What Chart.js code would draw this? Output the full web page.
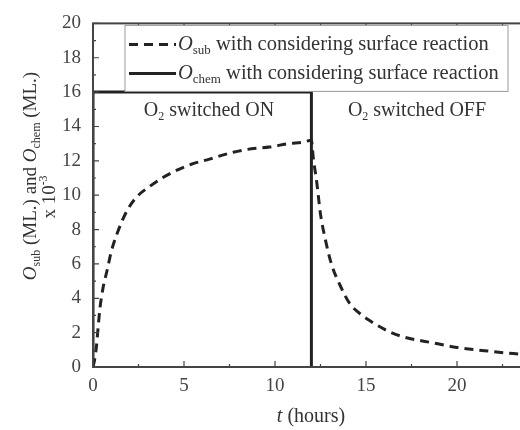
<!DOCTYPE html>
<html>
<head>
<meta charset="utf-8">
<script src="https://cdn.jsdelivr.net/npm/chart.js@4"></script>
<style>
  html, body { margin: 0; padding: 0; background: #fff; overflow: hidden; }
  #wrap { width: 520px; height: 430px; overflow: hidden; }
</style>
</head>
<body>
<div id="wrap"><canvas id="chart" width="550" height="430"></canvas></div>
<script>
// ===== Data =====
const chemTime = [0, 0, 12, 12];
const chemValues = [0, 16, 16, 0];

const subTime = [0, 0.1, 0.2, 0.28, 0.38, 0.55, 0.77, 1.0, 1.3, 1.87, 2.4, 3.1, 3.8, 4.5, 5.4, 6.4, 7.7, 8.7, 9.7, 10.7, 11.6, 12.0,
  12.1, 12.3, 12.5, 12.75, 13.1, 13.6, 14.1, 14.8, 15.2, 16.0, 16.9, 18.7, 20, 21.5, 23.1, 25];
const subValues = [0, 0.5, 1.3, 2.3, 3.4, 4.6, 5.6, 6.7, 7.7, 9.1, 9.9, 10.5, 11.0, 11.4, 11.8, 12.1, 12.5, 12.7, 12.8, 13.0, 13.1, 13.2,
  12.2, 10.7, 8.9, 7.5, 6.0, 4.7, 3.7, 3.0, 2.7, 2.2, 1.8, 1.4, 1.14, 0.95, 0.78, 0.65];

const xTicks = [0, 5, 10, 15, 20];
const yTicks = [0, 2, 4, 6, 8, 10, 12, 14, 16, 18, 20];

const FONT = "'Liberation Serif', 'DejaVu Serif', serif";
const INK = "#222";

// ===== Rich text helper (italic / subscript / superscript) =====
function fontFor(style, size) {
  const small = style === "sub" || style === "sup";
  const sz = small ? Math.round(size * 0.62) : size;
  const it = style === "i" ? "italic " : "";
  return it + sz + "px " + FONT;
}
function richWidth(ctx, parts, size) {
  let w = 0;
  parts.forEach(([t, s]) => {
    ctx.font = fontFor(s, size);
    w += ctx.measureText(t).width;
  });
  return w;
}
function drawRich(ctx, x, y, parts, size, align) {
  let cx = x;
  if (align === "center") cx = x - richWidth(ctx, parts, size) / 2;
  ctx.textBaseline = "middle";
  ctx.textAlign = "left";
  parts.forEach(([t, s]) => {
    ctx.font = fontFor(s, size);
    let dy = 0;
    if (s === "sub") dy = size * 0.3;
    if (s === "sup") dy = -size * 0.35;
    ctx.fillText(t, cx, y + dy);
    cx += ctx.measureText(t).width;
  });
}

// ===== Frame, ticks, legend, labels =====
const decor = {
  id: "decor",
  afterDatasetsDraw(chart) {
    const { ctx, chartArea: a, scales: { x, y } } = chart;
    ctx.save();

    // frame
    ctx.strokeStyle = "#444";
    ctx.lineWidth = 2;
    ctx.strokeRect(a.left, a.top, a.right - a.left, a.bottom - a.top);

    // inward ticks
    ctx.lineWidth = 1.2;
    for (let v = 0; v <= 20; v += 1) {
      const len = v % 2 === 0 ? 6 : 3;
      const py = y.getPixelForValue(v);
      ctx.beginPath();
      ctx.moveTo(a.left, py); ctx.lineTo(a.left + len, py);
      ctx.moveTo(a.right, py); ctx.lineTo(a.right - len, py);
      ctx.stroke();
    }
    for (let v = 0; v <= 25; v += 2.5) {
      const len = v % 5 === 0 ? 6 : 3;
      const px = x.getPixelForValue(v);
      ctx.beginPath();
      ctx.moveTo(px, a.bottom); ctx.lineTo(px, a.bottom - len);
      ctx.moveTo(px, a.top); ctx.lineTo(px, a.top + len);
      ctx.stroke();
    }

    // legend box
    const lx = 125, ly = a.top + 2, lw = 383, lh = 66;
    ctx.fillStyle = "#fff";
    ctx.fillRect(lx, ly, lw, lh);
    ctx.strokeStyle = "#999";
    ctx.lineWidth = 1;
    ctx.strokeRect(lx, ly, lw, lh);

    ctx.strokeStyle = INK;
    ctx.lineWidth = 3;
    ctx.setLineDash([9, 6]);
    ctx.beginPath(); ctx.moveTo(129, ly + 19); ctx.lineTo(176, ly + 19); ctx.stroke();
    ctx.setLineDash([]);
    ctx.beginPath(); ctx.moveTo(129, ly + 48); ctx.lineTo(176, ly + 48); ctx.stroke();

    ctx.fillStyle = "#333";
    drawRich(ctx, 178, ly + 19, [["O", "i"], ["sub", "sub"], [" with considering surface reaction", ""]], 20.5);
    drawRich(ctx, 178, ly + 48, [["O", "i"], ["chem", "sub"], [" with considering surface reaction", ""]], 20.5);

    // annotations
    drawRich(ctx, 209, 111, [["O", ""], ["2", "sub"], [" switched ON", ""]], 20, "center");
    drawRich(ctx, 417, 111, [["O", ""], ["2", "sub"], [" switched OFF", ""]], 20, "center");

    // x title
    drawRich(ctx, 311, 417, [["t", "i"], [" (hours)", ""]], 20, "center");

    // y title
    ctx.translate(31, 176);
    ctx.rotate(-Math.PI / 2);
    drawRich(ctx, 0, 0, [["O", "i"], ["sub", "sub"], [" (ML.) and ", ""], ["O", "i"], ["chem", "sub"], [" (ML.)", ""]], 19, "center");
    drawRich(ctx, -21, 19, [["x 10", ""], ["-3", "sup"]], 19, "center");

    ctx.restore();
  }
};

// ===== Chart =====
const ctx = document.getElementById("chart").getContext("2d");
new Chart(ctx, {
  type: "line",
  data: {
    datasets: [
      {
        label: "Osub",
        data: subTime.map((t, i) => ({ x: t, y: subValues[i] })),
        borderColor: INK,
        borderWidth: 3,
        borderDash: [9, 6],
        pointRadius: 0,
        cubicInterpolationMode: "monotone",
        fill: false
      },
      {
        label: "Ochem",
        data: chemTime.map((t, i) => ({ x: t, y: chemValues[i] })),
        borderColor: INK,
        borderWidth: 3,
        pointRadius: 0,
        tension: 0,
        fill: false
      }
    ]
  },
  options: {
    responsive: false,
    animation: false,
    devicePixelRatio: 1,
    layout: { padding: { top: 15, right: 2, left: 0, bottom: 0 } },
    plugins: { legend: { display: false }, tooltip: { enabled: false } },
    scales: {
      x: {
        type: "linear",
        min: 0, max: 25,
        afterBuildTicks: s => { s.ticks = xTicks.map(v => ({ value: v })); },
        afterFit: s => { s.height = 63; },
        grid: { display: false, drawTicks: false },
        border: { display: false },
        ticks: { color: "#444", padding: 8, font: { family: FONT, size: 19 } }
      },
      y: {
        min: 0, max: 20,
        afterBuildTicks: s => { s.ticks = yTicks.map(v => ({ value: v })); },
        afterFit: s => { s.width = 93; },
        grid: { display: false, drawTicks: false },
        border: { display: false },
        ticks: { color: "#444", padding: 12, font: { family: FONT, size: 19 } }
      }
    }
  },
  plugins: [decor]
});
</script>
</body>
</html>
